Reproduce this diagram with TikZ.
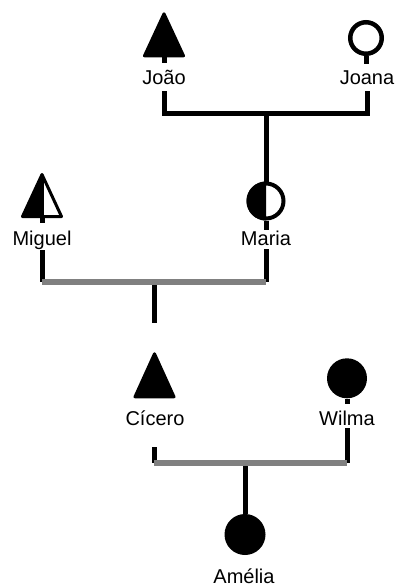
\documentclass[tikz,border=0pt]{standalone}
\usepackage{fontspec}
\setmainfont{Liberation Sans}
\definecolor{bargray}{RGB}{128,128,128}
\begin{document}
\begin{tikzpicture}[x=1pt,y=-1pt,
  conn/.style={line width=5pt},
  sibbar/.style={line width=5.5pt,draw=bargray},
  person/.style={font=\fontsize{20}{24}\selectfont,anchor=base,inner sep=0pt},
  trisym/.style={line width=3pt,line join=round},
  ringsym/.style={circle,draw,line width=4.5pt,inner sep=0pt},
  dotsym/.style={circle,fill,inner sep=0pt},
]
\useasboundingbox (0,0) rectangle (396,587);

% ---- symbols (triangles anchored at the middle of their base) ----
\coordinate (joao) at (164,55.8);
\filldraw[trisym] (joao) ++(0,-42) -- ++(19.5,42) -- ++(-39,0) -- cycle;
\node[ringsym,minimum size=31.5pt] (joana) at (366,38) {};

\coordinate (miguel) at (42,216.5);
\fill (miguel) ++(0,-42) -- (miguel) -- ++(-19.5,0) -- cycle;
\draw[trisym] (miguel) ++(0,-42) -- ++(19.5,42) -- ++(-39,0) -- cycle;
\draw[trisym] (miguel) -- ++(0,-42);

\node[ringsym,line width=4pt,minimum size=35pt] (maria) at (266,201) {};
\begin{scope}
  \clip (241,176) rectangle (266,226);
  \fill (maria.center) circle[radius=19.5pt];
\end{scope}

\coordinate (cicero) at (154.5,396.8);
\filldraw[trisym] (cicero) ++(0,-43) -- ++(19.5,43) -- ++(-39,0) -- cycle;
\node[dotsym,minimum size=40pt] (wilma) at (347,378.3) {};
\node[dotsym,minimum size=41pt] (amelia) at (245,534.5) {};

% ---- names ----
\node[person] (joaoL)   at (164,84.3) {João};
\node[person] (joanaL)  at (367,84.3) {Joana};
\node[person] (miguelL) at (42,245)   {Miguel};
\node[person] (mariaL)  at (266,245)  {Maria};
\node[person] (ciceroL) at (155,425.5){Cícero};
\node[person] (wilmaL)  at (347,425)  {Wilma};
\node[person] (ameliaL) at (244,583)  {Amélia};

% ---- stems below symbols ----
\draw[conn] (joao) -- ++(0,7.2);
\draw[conn] (joana.south) -- ++(0,7.5);
\draw[conn] (miguel) -- ++(0,6.2);
\draw[conn] (maria.south) -- ++(0,9.5);
\draw[conn] (wilma.south) -- ++(0,5);

% ---- João + Joana ----
\coordinate (u1) at (266,113);
\draw[conn] ([yshift=-7pt]joaoL.base) |- (u1) -| ([yshift=-7pt]joanaL.base);
\draw[conn] (u1) -- (maria.north);

% ---- Miguel + Maria ----
\coordinate (u2) at (154,282);
\coordinate (u2end) at (154,323);
\draw[conn] ([yshift=-5pt]miguelL.base) -- (miguel |- u2);
\draw[conn] ([yshift=-4pt]mariaL.base) -- (maria |- u2);
\draw[conn] (u2) -- (u2end);
\draw[sibbar] (miguel |- u2) -- (maria |- u2);

% ---- Cícero + Wilma ----
\coordinate (u3) at (245,463);
\coordinate (cstub) at (154,447);
\draw[conn] (cstub) -- (cstub |- u3);
\draw[conn] ([yshift=-3pt]wilmaL.base) -- (wilma |- u3);
\draw[conn] (u3) -- (amelia.north);
\draw[sibbar] (cstub |- u3) -- (wilma |- u3);
\end{tikzpicture}
\end{document}
